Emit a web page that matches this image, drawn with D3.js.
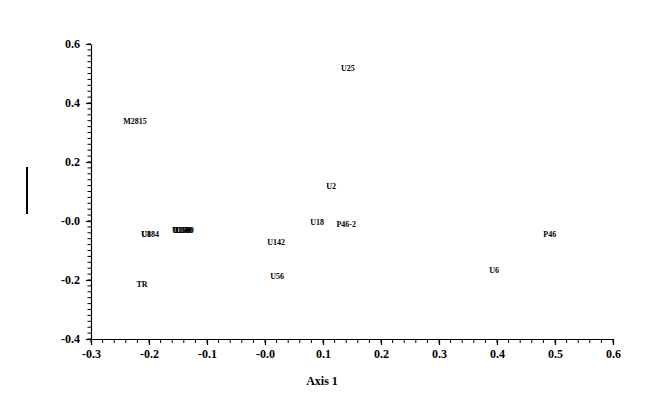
<!DOCTYPE html>
<html>
<head>
<meta charset="utf-8">
<script src="https://cdn.jsdelivr.net/npm/d3@7"></script>
<style>
  html, body { margin: 0; padding: 0; background: #fff; }
  text { font-family: "Liberation Serif", "Times New Roman", serif; }
</style>
</head>
<body>
<svg id="chart" width="664" height="413"></svg>
<script>
// Data
const labels = ["U25", "M2815", "U2", "U18", "P46-2", "U142", "U56", "P46", "U6", "TR",
                "U184", "U8", "U150", "U159", "U160", "U169"];
const axis1 = [0.143, -0.224, 0.114, 0.090, 0.140, 0.019, 0.021, 0.491, 0.395, -0.212,
               -0.198, -0.205, -0.145, -0.143, -0.140, -0.138];
const axis2 = [0.519, 0.339, 0.119, -0.003, -0.010, -0.071, -0.186, -0.044, -0.166, -0.214,
               -0.044, -0.044, -0.031, -0.031, -0.031, -0.031];
const xTicks = [-0.3, -0.2, -0.1, 0.0, 0.1, 0.2, 0.3, 0.4, 0.5, 0.6];
const yTicks = [-0.4, -0.2, 0.0, 0.2, 0.4, 0.6];
const xTitle = "Axis 1";

const svg = d3.select("#chart");
const x = d3.scaleLinear().domain([-0.3, 0.6]).range([91, 613]);
const y = d3.scaleLinear().domain([-0.4, 0.6]).range([339, 44]);

const fmt = v => (Math.abs(v) < 1e-9 ? "-0.0" : (v < 0 ? "-" : "") + Math.abs(v).toFixed(1));

// minor ticks
const xMinor = d3.range(-0.3, 0.6001, 0.02);
const yMinor = d3.range(-0.4, 0.6001, 0.02);

const xAxis = d3.axisBottom(x).tickValues(xTicks).tickFormat(fmt).tickSize(6).tickSizeOuter(0);
const yAxis = d3.axisLeft(y).tickValues(yTicks).tickFormat(fmt).tickSize(5).tickSizeOuter(0);

const gx = svg.append("g").attr("transform", "translate(0,339)");
gx.selectAll(".minor").data(xMinor).enter().append("line")
  .attr("x1", d => x(d)).attr("x2", d => x(d)).attr("y1", 0).attr("y2", 4)
  .attr("stroke", "#000").attr("stroke-width", 1);
gx.call(xAxis);
gx.select(".domain").attr("stroke", "#000").attr("stroke-width", 1.2);
gx.selectAll(".tick line").attr("stroke", "#000").attr("stroke-width", 1.2);
gx.selectAll(".tick text").attr("dy", "0").attr("y", 19)
  .attr("font-family", "Liberation Serif, serif").attr("font-weight", "bold").attr("font-size", 12).attr("fill", "#000");

const gy = svg.append("g").attr("transform", "translate(91,0)");
gy.selectAll(".minor").data(yMinor).enter().append("line")
  .attr("x1", -3.5).attr("x2", 0).attr("y1", d => y(d)).attr("y2", d => y(d))
  .attr("stroke", "#000").attr("stroke-width", 1);
gy.call(yAxis);
gy.select(".domain").attr("stroke", "#000").attr("stroke-width", 1.2);
gy.selectAll(".tick line").attr("stroke", "#000").attr("stroke-width", 1.2);
gy.selectAll(".tick text").attr("x", -11).attr("dy", "0.3em")
  .attr("font-family", "Liberation Serif, serif").attr("font-weight", "bold").attr("font-size", 12).attr("fill", "#000");

// x axis title
svg.append("text").attr("x", 322).attr("y", 385).attr("text-anchor", "middle")
  .attr("font-weight", "bold").attr("font-size", 12).attr("fill", "#000").text(xTitle);

// y axis title placeholder bar (as drawn in reference)
svg.append("line").attr("x1", 27).attr("x2", 27).attr("y1", 167).attr("y2", 214)
  .attr("stroke", "#000").attr("stroke-width", 2);

// point labels
const pts = labels.map((l, i) => ({ l, a: axis1[i], b: axis2[i] }));
svg.append("g").selectAll("text").data(pts).enter().append("text")
  .attr("x", d => x(d.a)).attr("y", d => y(d.b)).attr("dy", "0.35em")
  .attr("text-anchor", "middle").attr("font-size", 8).attr("font-weight", "bold")
  .attr("fill", "#000").text(d => d.l);
</script>
</body>
</html>
